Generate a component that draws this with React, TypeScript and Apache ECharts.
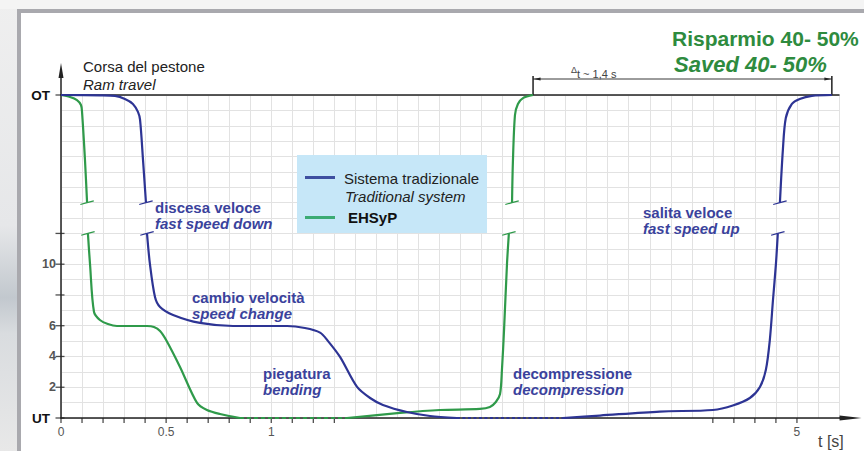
import React, { useEffect, useRef } from 'react';
import * as echarts from 'echarts';

// ---- axes (grid units: x = compressed time cells, y = stroke cells) ----
const X_MAX = 37;
const Y_MAX = 21; // OT
const xTickValues = [0, 1, 2, 3, 4, 5, 6, 7, 8, 9, 10, 11, 12, 13, 31, 32, 33, 34, 35];
const xLabelValues = [0, 5, 10, 35];
const xLabels: Record<number, string> = { 0: '0', 5: '0.5', 10: '1', 35: '5' };
const yTickValues = [0, 2, 4, 6, 8, 10, 12, 21];
const yLabelValues = [0, 2, 4, 6, 10, 21];
const yLabels: Record<number, string> = { 0: 'UT', 2: '2', 4: '4', 6: '6', 10: '10', 21: 'OT' };

// ---- series (null = axis break) ----
const traditional: (number[] | null)[] = [
  [0, 21], [1.85, 20.98], [2.57, 20.94], [3.04, 20.74], [3.42, 20.42], [3.66, 19.9], [3.76, 19.38],
  [3.9, 16.78], [4.04, 14],
  null,
  [4.09, 12], [4.23, 10], [4.47, 7.87], [4.71, 7.22], [5.33, 6.7], [6.61, 6.18], [8.18, 5.98],
  [10.75, 5.98], [11.6, 5.85], [12.32, 5.55], [12.7, 5.0], [13.27, 3.97], [14.08, 2.02],
  [14.7, 1.3], [15.31, 0.85], [16.45, 0.39], [17.55, 0.13], [18.83, 0],
  null,
  [23.87, 0], [25.63, 0.16], [28.48, 0.42], [31.0, 0.52], [31.95, 0.81], [32.76, 1.3], [33.24, 2.02],
  [33.52, 3.12], [33.71, 5.07], [33.86, 7.67], [34.0, 10], [34.09, 12],
  null,
  [34.19, 14], [34.33, 17.42], [34.47, 19.5], [34.76, 20.42], [35.13, 20.74], [35.71, 20.94], [36.66, 21],
];
const traditionalPressing = [[18.83, 0], [23.87, 0]];

const ehsyp: (number[] | null)[] = [
  [0, 21], [0.43, 20.87], [0.76, 20.67], [0.95, 20.35], [1.0, 19.9], [1.14, 16.78], [1.24, 14],
  null,
  [1.28, 12], [1.38, 10], [1.57, 6.89], [1.85, 6.37], [2.23, 6.11], [2.66, 5.98], [4.09, 5.98],
  [4.42, 5.92], [4.71, 5.66], [5.0, 5.07], [5.66, 3.32], [6.47, 0.98], [6.94, 0.52], [7.56, 0.26], [8.51, 0],
  null,
  [13.6, 0], [16.12, 0.33], [18.02, 0.52], [19.92, 0.59], [20.4, 0.72], [20.68, 1.04], [20.88, 1.56],
  [20.97, 3.12], [21.07, 5.72], [21.21, 10], [21.3, 12],
  null,
  [21.45, 14], [21.49, 16.58], [21.59, 19.7], [21.73, 20.42], [21.97, 20.8], [22.45, 21],
];
const ehsypPressing = [[8.51, 0], [13.6, 0]];

const BREAK_LOW = 12;
const BREAK_HIGH = 14;

const BLUE = '#2d3494';
const GREEN = '#2f9a4a';
const TEXT_BLUE = '#3a429c';
const AXIS = '#222';
const FONT = "'Liberation Sans', Arial, sans-serif";

function breakMarks(data: (number[] | null)[]) {
  const out: (number[] | null)[] = [];
  data.forEach((p, i) => {
    if (!p) return;
    const nearNull = data[i - 1] === null || data[i + 1] === null;
    if (nearNull && (p[1] === BREAK_LOW || p[1] === BREAK_HIGH)) {
      out.push([p[0] - 0.32, p[1] - 0.12], [p[0], p[1]], [p[0] + 0.32, p[1] + 0.12], null);
    }
  });
  return out;
}

export default function App() {
  const ref = useRef<HTMLDivElement>(null);
  useEffect(() => {
    if (!ref.current) return;
    const chart = echarts.init(ref.current, undefined, { renderer: 'svg' });
    const greenEnd = ehsyp[ehsyp.length - 1] as number[];
    const blueEnd = traditional[traditional.length - 1] as number[];
    const bracketTop = 22.24;
    const bracketY = 22.04;

    const txt = (text: string, x: number, y: number, font: string, fill: string, align = 'left') => ({
      type: 'text', z: 20,
      style: { text, x, y, font, fill, align, textAlign: align, verticalAlign: 'middle', textVerticalAlign: 'middle' },
    });

    chart.setOption({
      animation: false,
      backgroundColor: 'transparent',
      grid: { left: 61, right: 25, top: 95, bottom: 33, containLabel: false },
      xAxis: [
        {
          type: 'value', min: 0, max: X_MAX, interval: 1,
          axisLine: { show: true, lineStyle: { color: AXIS, width: 1.5 } },
          axisTick: { show: false },
          axisLabel: {
            customValues: xLabelValues, margin: 8, color: '#555', fontSize: 12, fontFamily: FONT,
            formatter: (v: number) => xLabels[v] ?? '',
          },
          splitLine: { show: true, lineStyle: { color: '#e2e2e2', width: 1 } },
        },
        {
          type: 'value', min: 0, max: X_MAX, position: 'top',
          axisLine: { show: true, lineStyle: { color: AXIS, width: 1.5 } },
          axisTick: { show: false }, axisLabel: { show: false }, splitLine: { show: false },
        },
      ],
      yAxis: {
        type: 'value', min: 0, max: Y_MAX, interval: 1,
        axisLine: { show: true, lineStyle: { color: AXIS, width: 1.5 } },
        axisTick: { show: false },
        axisLabel: {
          customValues: yLabelValues, margin: 5, color: '#555', fontSize: 12.5, fontWeight: 'bold', fontFamily: FONT,
          formatter: (v: number) => (v === 0 || v === Y_MAX ? `{b|${yLabels[v]}}` : yLabels[v] ?? ''),
          rich: { b: { color: '#111', fontSize: 13.5, fontWeight: 'bold', fontFamily: FONT, padding: [0, 6, 0, 0] } },
        },
        splitLine: { show: true, lineStyle: { color: '#e2e2e2', width: 1 } },
      },
      series: [
        {
          name: 'Sistema tradizionale', type: 'line', data: traditional, smooth: 0.3, connectNulls: false,
          symbol: 'none', lineStyle: { color: BLUE, width: 2.2 }, z: 5,
        },
        {
          type: 'line', data: traditionalPressing, symbol: 'none',
          lineStyle: { color: BLUE, width: 2.2, type: [3, 2.5] }, z: 5,
        },
        {
          name: 'EHSyP', type: 'line', data: ehsyp, smooth: 0.3, connectNulls: false,
          symbol: 'none', lineStyle: { color: GREEN, width: 2.2 }, z: 4,
        },
        {
          type: 'line', data: ehsypPressing, symbol: 'none',
          lineStyle: { color: GREEN, width: 2.2, type: [4, 3] }, z: 4,
        },
        {
          type: 'line', data: breakMarks(traditional), smooth: 0.6, symbol: 'none', clip: false,
          lineStyle: { color: BLUE, width: 1.2 }, z: 6,
        },
        {
          type: 'line', data: breakMarks(ehsyp), smooth: 0.6, symbol: 'none', clip: false,
          lineStyle: { color: GREEN, width: 1.2 }, z: 6,
        },
        // axis ticks
        {
          type: 'scatter', clip: false, silent: true, z: 3,
          data: xTickValues.map((v) => [v, 0]),
          symbol: 'rect', symbolSize: [1.3, 5], symbolOffset: [0, 2.5], itemStyle: { color: AXIS },
        },
        {
          type: 'scatter', clip: false, silent: true, z: 3,
          data: yTickValues.map((v) => [0, v]),
          symbol: 'rect', symbolSize: [9, 1.3], symbolOffset: [-1, 0], itemStyle: { color: AXIS },
        },
        // axis arrows
        {
          type: 'line', clip: false, symbol: 'none', lineStyle: { color: AXIS, width: 1.5 }, itemStyle: { color: AXIS }, z: 3,
          data: [[0, Y_MAX], { value: [0, 22.6], symbol: 'triangle', symbolSize: [5, 15] }],
        },
        {
          type: 'line', clip: false, symbol: 'none', lineStyle: { color: AXIS, width: 1.5 }, itemStyle: { color: AXIS }, z: 3,
          data: [[X_MAX, 0], { value: [37.55, 0], symbol: 'triangle', symbolSize: [5, 22], symbolRotate: -90 }],
        },
        // delta-t bracket
        {
          type: 'line', clip: false, symbol: 'none', lineStyle: { color: AXIS, width: 1.5 }, z: 3,
          data: [[greenEnd[0], Y_MAX], [greenEnd[0], bracketTop], null, [blueEnd[0], Y_MAX], [blueEnd[0], bracketTop]],
        },
        {
          type: 'line', clip: false, symbol: 'none', lineStyle: { color: AXIS, width: 0.9 }, z: 3,
          itemStyle: { color: AXIS },
          data: [
            { value: [greenEnd[0], bracketY], symbol: 'triangle', symbolSize: [3, 7], symbolRotate: 90, symbolOffset: [4, 0] },
            { value: [blueEnd[0], bracketY], symbol: 'triangle', symbolSize: [3, 7], symbolRotate: -90, symbolOffset: [-4, 0] },
          ],
        },
      ],
      graphic: [
        txt('Corsa del pestone', 83, 66, `15px ${FONT}`, '#222'),
        txt('Ram travel', 83, 84, `italic 15px ${FONT}`, '#222'),
        {
          type: 'text', z: 20,
          style: {
            x: 571, y: 72, fill: '#444', verticalAlign: 'middle', textVerticalAlign: 'middle',
            text: '{d|Δ}{t|t ~ 1,4 s}',
            rich: {
              d: { fontSize: 9, fontFamily: FONT, fill: '#444', padding: [0, 0, 5, 0] },
              t: { fontSize: 11, fontFamily: FONT, fill: '#444', padding: [4, 0, 0, 0] },
            },
          },
        },
        txt('Risparmio 40- 50%', 672, 38, `bold 21px ${FONT}`, '#2e8b3e'),
        txt('Saved 40- 50%', 674, 64, `italic bold 22px ${FONT}`, '#2e8b3e'),
        txt('discesa veloce', 155, 207, `bold 15px ${FONT}`, TEXT_BLUE),
        txt('fast speed down', 155, 223, `italic bold 15px ${FONT}`, TEXT_BLUE),
        txt('cambio velocità', 192, 297, `bold 15px ${FONT}`, TEXT_BLUE),
        txt('speed change', 192, 313, `italic bold 15px ${FONT}`, TEXT_BLUE),
        txt('piegatura', 263, 373, `bold 15px ${FONT}`, TEXT_BLUE),
        txt('bending', 263, 389, `italic bold 15px ${FONT}`, TEXT_BLUE),
        txt('decompressione', 513, 373, `bold 15px ${FONT}`, TEXT_BLUE),
        txt('decompression', 513, 389, `italic bold 15px ${FONT}`, TEXT_BLUE),
        txt('salita veloce', 643, 212, `bold 15px ${FONT}`, TEXT_BLUE),
        txt('fast speed up', 643, 228, `italic bold 15px ${FONT}`, TEXT_BLUE),
        txt('t [s]', 818, 441, `16px ${FONT}`, '#444'),
        // legend
        {
          type: 'group', z: 15,
          children: [
            { type: 'rect', z: 15, shape: { x: 297, y: 155, width: 190, height: 78 }, style: { fill: '#c6e7f8' } },
            { type: 'rect', z: 16, shape: { x: 305, y: 176, width: 30, height: 3 }, style: { fill: '#3e4fa0' } },
            { type: 'rect', z: 16, shape: { x: 305, y: 216, width: 30, height: 3 }, style: { fill: '#3bab74' } },
            txt('Sistema tradizionale', 344, 178, `15px ${FONT}`, '#222'),
            txt('Traditional system', 345, 196, `italic 15px ${FONT}`, '#222'),
            txt('EHSyP', 348, 217, `bold 15px ${FONT}`, '#111'),
          ],
        },
      ],
    });
    return () => chart.dispose();
  }, []);

  return (
    <div
      style={{
        position: 'fixed', left: 0, top: 0, width: 864, height: 451, overflow: 'hidden',
        background: 'linear-gradient(180deg, #efefef 0%, #e6e7e9 50%, #c2c8ce 66%, #d9dcdf 74%, #e8e8e8 100%)',
      }}
    >
      <div
        style={{
          position: 'absolute', left: 17, top: 9, width: 900, height: 500,
          borderLeft: '4px solid #a9a9ae', borderTop: '4px solid #a9a9ae', background: '#ffffff',
        }}
      />
      <div style={{ position: 'absolute', left: 0, top: 0, width: 864, height: 9, background: '#f4f4f4' }} />
      <div ref={ref} style={{ position: 'absolute', left: 0, top: 0, width: 864, height: 451 }} />
    </div>
  );
}
